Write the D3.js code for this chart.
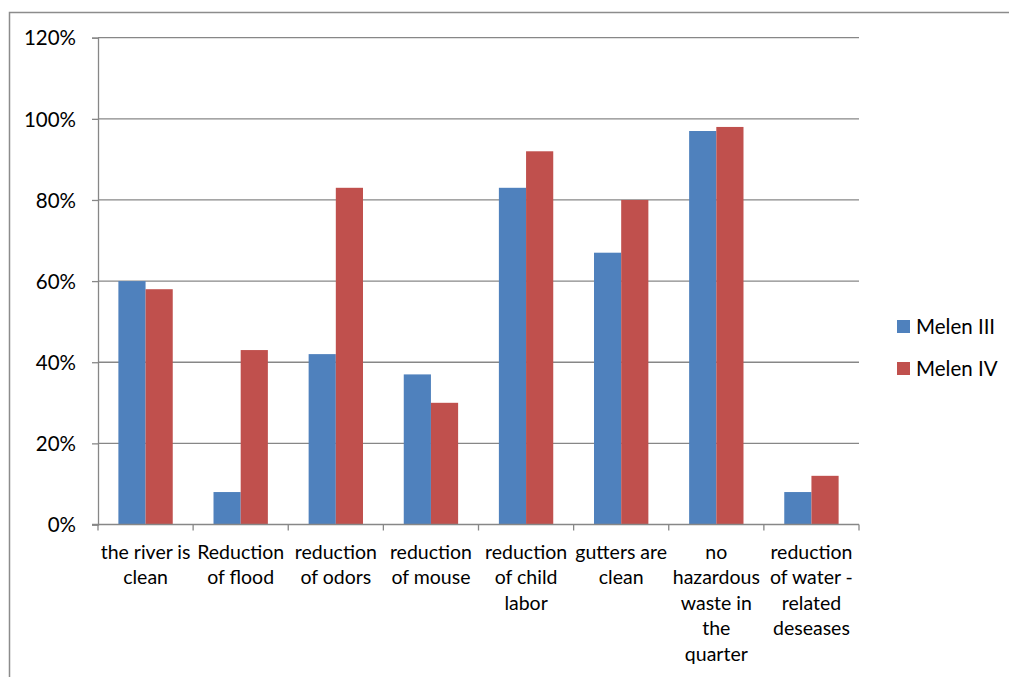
<!DOCTYPE html>
<html>
<head>
<meta charset="utf-8">
<script src="https://cdn.jsdelivr.net/npm/d3@7"></script>
<style>
  html, body { margin: 0; padding: 0; background: #fff; }
  svg { display: block; }
  text { font-family: Lato, "Open Sans", sans-serif; fill: #000; }
</style>
</head>
<body>
<svg id="chart" width="1009" height="677"></svg>
<script>
// Survey categories (label lines as shown under the axis)
const categories = [
  ["the river is", "clean"],
  ["Reduction", "of flood"],
  ["reduction", "of odors"],
  ["reduction", "of mouse"],
  ["reduction", "of child", "labor"],
  ["gutters are", "clean"],
  ["no", "hazardous", "waste in", "the", "quarter"],
  ["reduction", "of water -", "related", "deseases"]
];
const seriesNames = ["Melen III", "Melen IV"];
const melenIII = [0.60, 0.08, 0.42, 0.37, 0.83, 0.67, 0.97, 0.08];
const melenIV  = [0.58, 0.43, 0.83, 0.30, 0.92, 0.80, 0.98, 0.12];
const seriesColors = ["#4F81BD", "#C0504D"];
const yTicks = [0, 0.2, 0.4, 0.6, 0.8, 1.0, 1.2];

const svg = d3.select("#chart");
const plot = { left: 98, right: 859, top: 37.7, bottom: 524.5 };

// Outer chart frame (top and left edges visible)
svg.append("rect")
  .attr("x", 9.5).attr("y", 12.5)
  .attr("width", 1100).attr("height", 800)
  .attr("fill", "none").attr("stroke", "#8c8c8c").attr("stroke-width", 1.5);

const keys = categories.map((c, i) => i);
const x0 = d3.scaleBand().domain(keys).range([plot.left, plot.right]).paddingInner(0).paddingOuter(0);
const x1 = d3.scaleBand().domain(seriesNames).range([0, x0.bandwidth()]).paddingInner(0).paddingOuter(0.75);
const y = d3.scaleLinear().domain([0, 1.2]).range([plot.bottom, plot.top]);

// Horizontal gridlines
svg.append("g")
  .selectAll("line")
  .data(yTicks.slice(1))
  .join("line")
  .attr("x1", plot.left).attr("x2", plot.right)
  .attr("y1", d => y(d)).attr("y2", d => y(d))
  .attr("stroke", "#878787").attr("stroke-width", 1.3);

// Bars
const rows = keys.map(i => ({ i, values: [melenIII[i], melenIV[i]] }));
const groups = svg.append("g").selectAll("g")
  .data(rows)
  .join("g")
  .attr("transform", d => `translate(${x0(d.i)},0)`);
groups.selectAll("rect")
  .data(d => d.values.map((v, s) => ({ v, s })))
  .join("rect")
  .attr("x", d => x1(seriesNames[d.s]))
  .attr("width", x1.bandwidth())
  .attr("y", d => y(d.v))
  .attr("height", d => y(0) - y(d.v))
  .attr("fill", d => seriesColors[d.s]);

// Y axis
const yAxis = d3.axisLeft(y).tickValues(yTicks).tickFormat(d3.format(".0%")).tickSize(6).tickPadding(16);
const yg = svg.append("g").attr("transform", `translate(${plot.left},0)`).call(yAxis);
yg.select(".domain").attr("stroke", "#878787").attr("stroke-width", 1.3);
yg.selectAll(".tick line").attr("stroke", "#878787").attr("stroke-width", 1.3);
yg.selectAll(".tick text").style("font-size", "20.5px").attr("dy", "0.35em");

// X axis with tick marks at category boundaries
const xg = svg.append("g").attr("transform", `translate(0,${plot.bottom})`);
xg.append("line")
  .attr("x1", plot.left - 6).attr("x2", plot.right)
  .attr("stroke", "#878787").attr("stroke-width", 1.3);
xg.selectAll("line.tk")
  .data(keys.concat([keys.length]))
  .join("line")
  .attr("class", "tk")
  .attr("x1", d => d < keys.length ? x0(d) : plot.right)
  .attr("x2", d => d < keys.length ? x0(d) : plot.right)
  .attr("y1", 0).attr("y2", 6)
  .attr("stroke", "#878787").attr("stroke-width", 1.3);

const labels = xg.selectAll("text.cat")
  .data(rows)
  .join("text")
  .attr("class", "cat")
  .attr("text-anchor", "middle")
  .style("font-size", "19.5px")
  .attr("transform", d => `translate(${x0(d.i) + x0.bandwidth() / 2},34)`);
labels.selectAll("tspan")
  .data(d => categories[d.i])
  .join("tspan")
  .attr("x", 0)
  .attr("y", (d, k) => k * 25.5)
  .text(d => d);

// Legend
const legend = svg.append("g").attr("transform", "translate(897,320)");
const items = legend.selectAll("g")
  .data(seriesNames)
  .join("g")
  .attr("transform", (d, k) => `translate(0,${k * 42})`);
items.append("rect")
  .attr("width", 13).attr("height", 13)
  .attr("fill", (d, k) => seriesColors[k]);
items.append("text")
  .attr("x", 19).attr("y", 14)
  .style("font-size", "20.5px")
  .text(d => d);
</script>
</body>
</html>
